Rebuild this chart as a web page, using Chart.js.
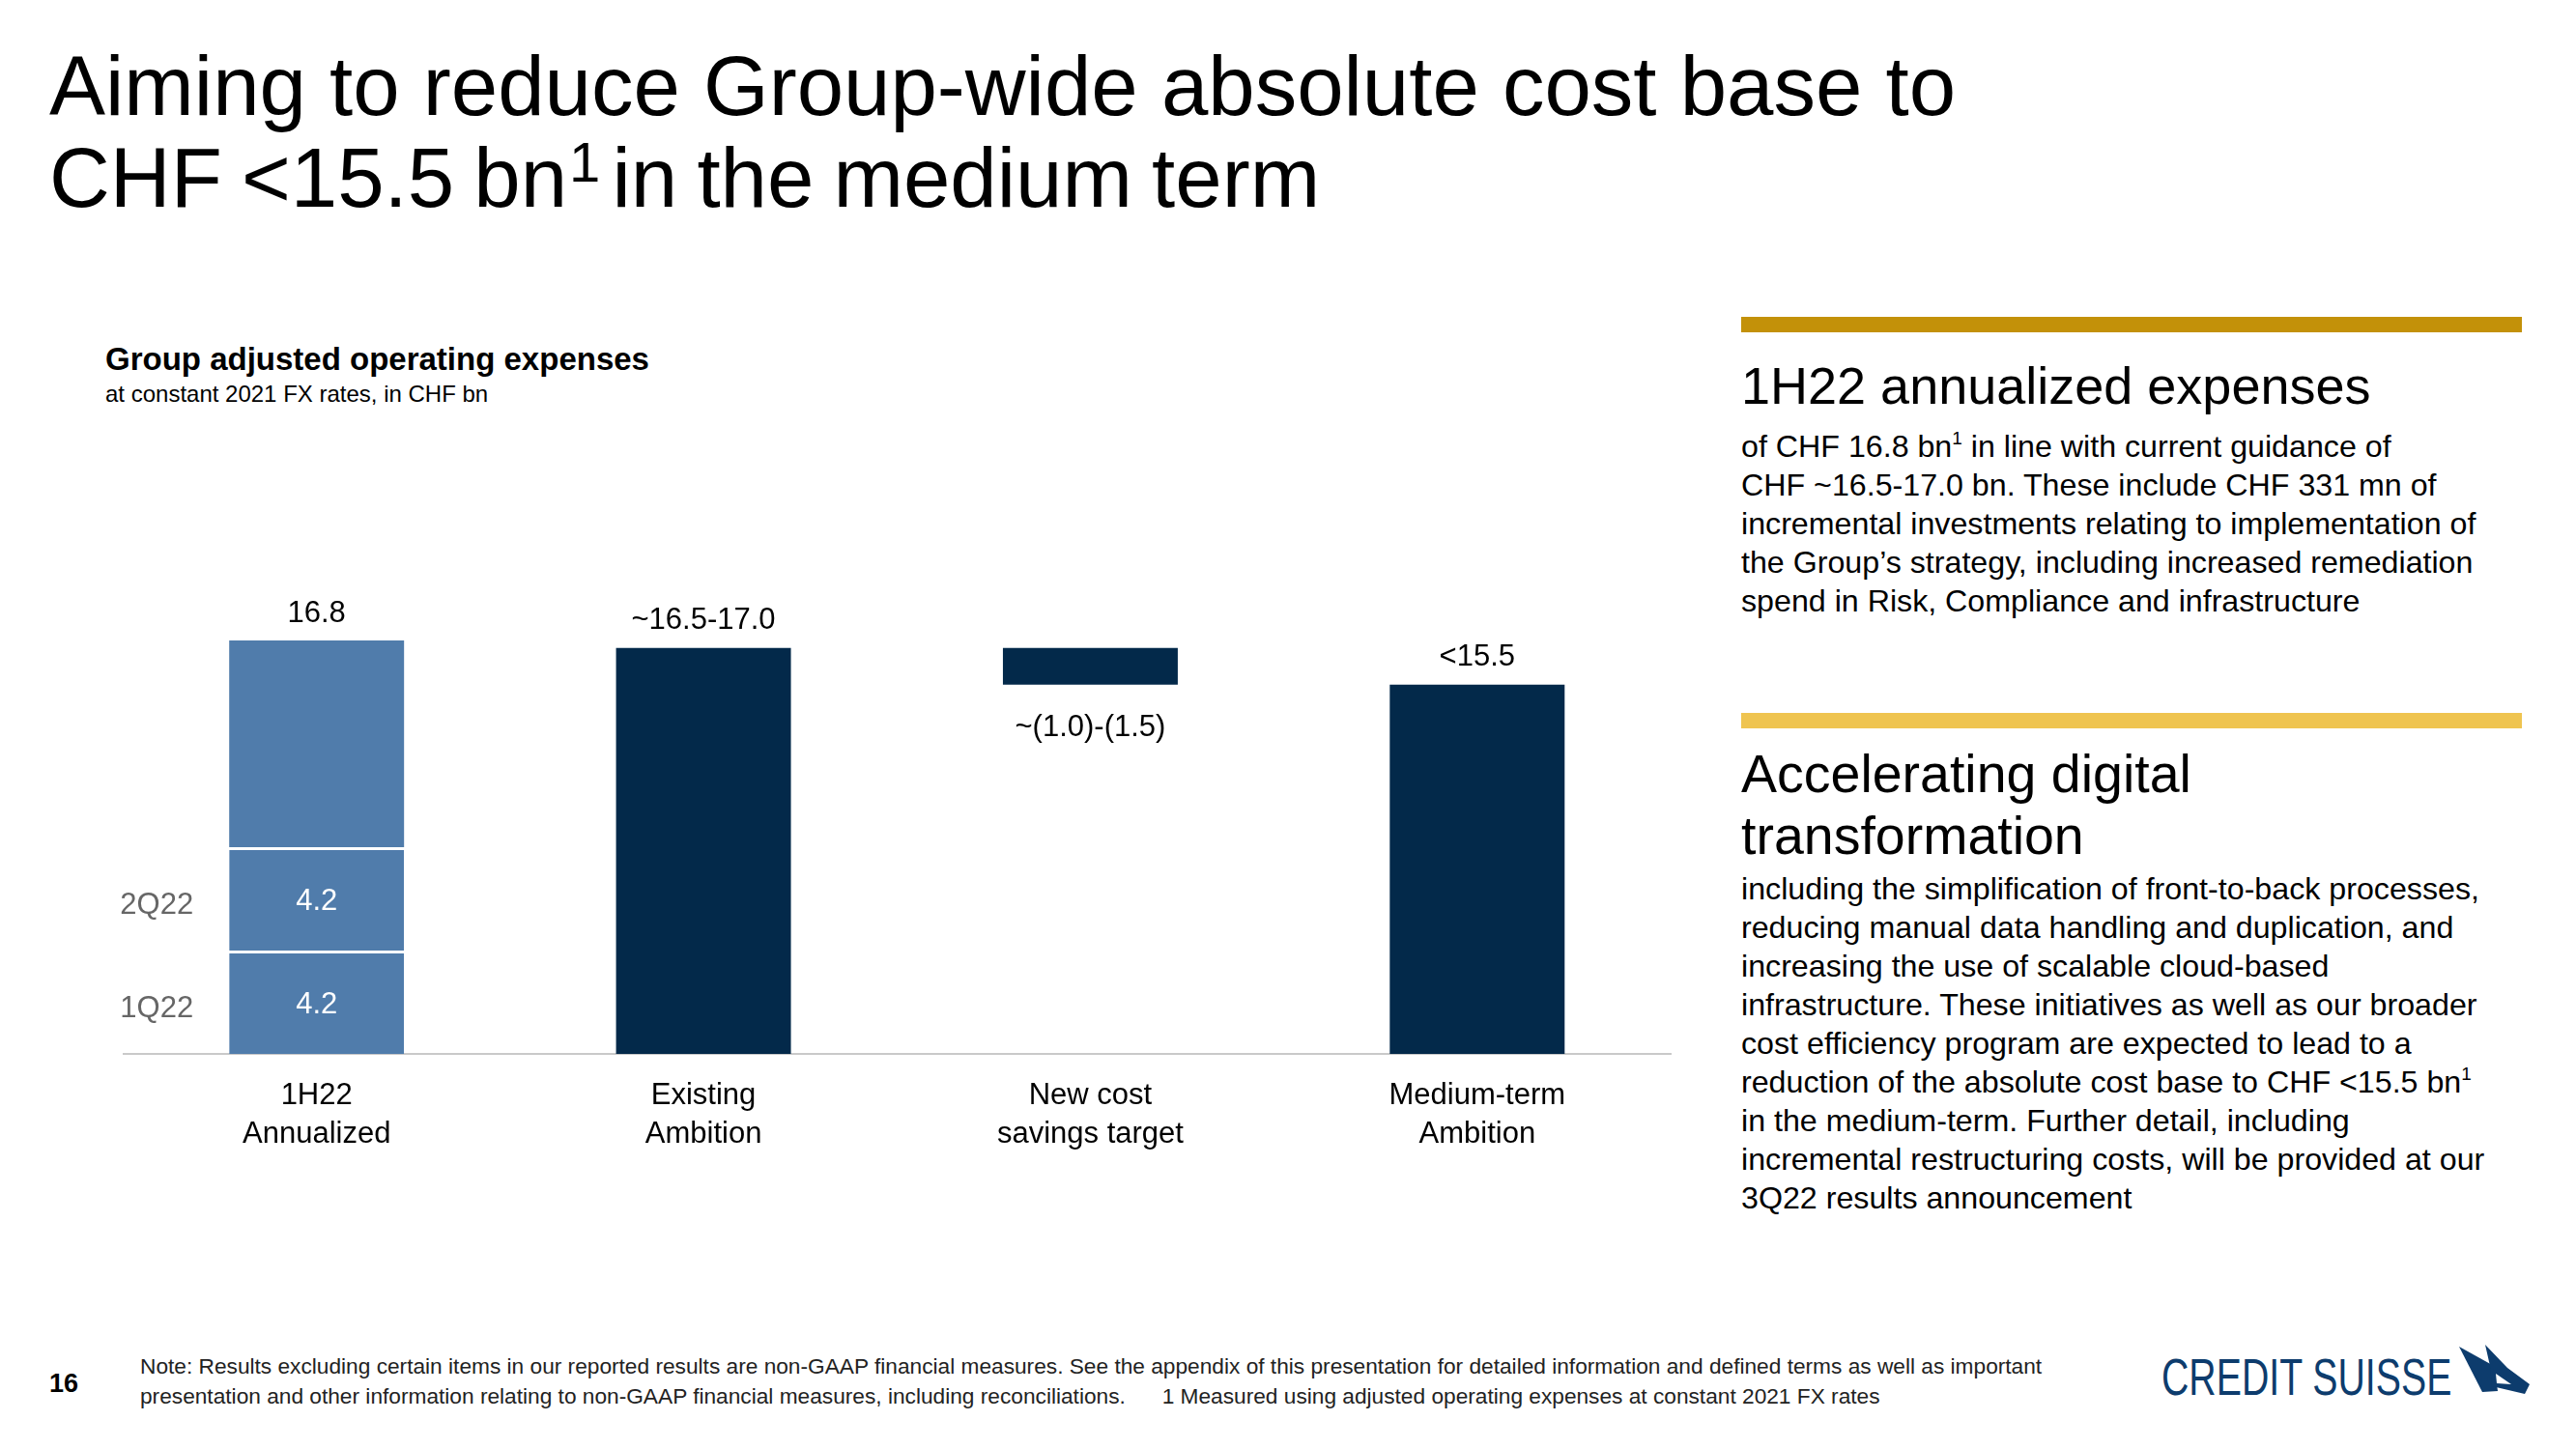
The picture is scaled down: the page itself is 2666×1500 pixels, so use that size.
<!DOCTYPE html>
<html>
<head>
<meta charset="utf-8">
<script src="https://cdn.jsdelivr.net/npm/chart.js@4.4.1/dist/chart.umd.min.js"></script>
<style>
  html, body { margin: 0; padding: 0; background: #fff; }
  body { width: 2666px; height: 1500px; position: relative; overflow: hidden; font-family: "Liberation Sans", Arial, sans-serif; color: #000; }
  .abs { position: absolute; white-space: nowrap; }
  #title { left: 51px; top: 41px; font-size: 87px; line-height: 95px; }
  #title .l2 { word-spacing: -4px; }
  #title sup { font-size: 58px; vertical-align: 26px; line-height: 0; margin-left: 2px; margin-right: -8px; }
  #chartHead { left: 109px; top: 352px; font-size: 33px; line-height: 40px; font-weight: bold; }
  #chartSub { left: 109px; top: 393px; font-size: 24px; line-height: 30px; }
  #chartBox { left: 100px; top: 540px; width: 1680px; height: 720px; }
  .bar { position: absolute; left: 1802px; width: 808px; height: 16px; }
  .head { left: 1802px; line-height: 64px; }
  .body { left: 1802px; font-size: 32.2px; line-height: 40px; }
  .body sup { font-size: 19px; vertical-align: 13px; line-height: 0; }
  #pageNo { left: 51px; top: 1415px; font-size: 27px; line-height: 34px; font-weight: bold; }
  #note { left: 145px; top: 1399px; font-size: 22.7px; line-height: 30.6px; color: #222; }
  #logo { left: 2237px; top: 1394px; font-size: 54px; line-height: 62px; color: #0d3c6d; transform: scaleX(0.727); transform-origin: 0 0; }
  #sail { left: 2545px; top: 1392px; }
</style>
</head>
<body>

<div id="title" class="abs">Aiming to reduce Group-wide absolute cost base to<br><span class="l2">CHF &lt;15.5 bn<sup>1</sup> in the medium term</span></div>

<div id="chartHead" class="abs">Group adjusted operating expenses</div>
<div id="chartSub" class="abs">at constant 2021 FX rates, in CHF bn</div>

<div id="chartBox" class="abs"><canvas id="chart" width="1680" height="720"></canvas></div>

<div class="bar" style="top:328px;background:#c39109;"></div>
<div class="abs head" style="top:367px;font-size:54px;">1H22 annualized expenses</div>
<div class="abs body" style="top:442px;">of CHF 16.8 bn<sup>1</sup> in line with current guidance of<br>CHF ~16.5-17.0 bn. These include CHF 331 mn of<br>incremental investments relating to implementation of<br>the Group’s strategy, including increased remediation<br>spend in Risk, Compliance and infrastructure</div>

<div class="bar" style="top:738px;background:#efc450;"></div>
<div class="abs head" style="top:769px;font-size:55.5px;">Accelerating digital<br>transformation</div>
<div class="abs body" style="top:900px;">including the simplification of front-to-back processes,<br>reducing manual data handling and duplication, and<br>increasing the use of scalable cloud-based<br>infrastructure. These initiatives as well as our broader<br>cost efficiency program are expected to lead to a<br>reduction of the absolute cost base to CHF &lt;15.5 bn<sup>1</sup><br>in the medium-term. Further detail, including<br>incremental restructuring costs, will be provided at our<br>3Q22 results announcement</div>

<div id="pageNo" class="abs">16</div>
<div id="note" class="abs">Note: Results excluding certain items in our reported results are non-GAAP financial measures. See the appendix of this presentation for detailed information and defined terms as well as important<br>presentation and other information relating to non-GAAP financial measures, including reconciliations.&nbsp;&nbsp;&nbsp;&nbsp;&nbsp;&nbsp;1 Measured using adjusted operating expenses at constant 2021 FX rates</div>

<div id="logo" class="abs">CREDIT SUISSE</div>
<svg id="sail" class="abs" width="76" height="54" viewBox="0 0 76 54">
  <path d="M0 2 L36 22 L40 48 L24 49 Z" fill="#0d3c6d"/>
  <path d="M27 0 L50 24 L73 41 L68 51 L34 43 L32 22 Z" fill="#0d3c6d"/>
  <path d="M38 30 L54 41 L39 40 Z" fill="#ffffff"/>
</svg>

<script>
// categories and values (CHF bn)
const categories = [['1H22', 'Annualized'], ['Existing', 'Ambition'], ['New cost', 'savings target'], ['Medium-term', 'Ambition']];
const q1Values = [4.2, null, null, null];
const q2Values = [4.2, null, null, null];
const annualizedTotal = [16.8, null, null, null];
const ambitionValues = [null, 16.5, null, 15.0];
const savingsFrom = [null, null, 16.5, null];
const savingsTo = [null, null, 15.0, null];
const topLabels = ['16.8', '~16.5-17.0', '', '<15.5'];
const belowLabels = ['', '', '~(1.0)-(1.5)', ''];
const segmentNames = ['1Q22', '2Q22'];

const lightBlue = '#507cab';
const navy = '#03294a';

// floating ranges for the stacked 1H22 column
var q1Range = q1Values.map(v => v == null ? null : [0, v]);
var q2Range = q2Values.map((v, i) => v == null ? null : [q1Values[i], q1Values[i] + v]);
var restRange = annualizedTotal.map((v, i) => v == null ? null : [q1Values[i] + q2Values[i], v]);
var darkRange = ambitionValues.map((v, i) => {
    if (v != null) return [0, v];
    if (savingsFrom[i] != null) return [savingsTo[i], savingsFrom[i]];
    return null;
});

Chart.defaults.font.family = '"Liberation Sans", Arial, sans-serif';

const barLabels = {
    id: 'barLabels',
    afterDatasetsDraw(chart) {
        const ctx = chart.ctx;
        ctx.save();
        ctx.font = '31px "Liberation Sans", Arial, sans-serif';
        ctx.textAlign = 'center';
        ctx.textBaseline = 'middle';
        categories.forEach((c, i) => {
            let top = Infinity, bottom = -Infinity, x = null;
            chart.data.datasets.forEach((ds, di) => {
                const el = chart.getDatasetMeta(di).data[i];
                if (!el || ds.data[i] == null) return;
                const p = el.getProps(['x', 'y', 'base'], true);
                top = Math.min(top, p.y, p.base);
                bottom = Math.max(bottom, p.y, p.base);
                x = p.x;
            });
            if (x == null) return;
            ctx.fillStyle = '#000';
            if (topLabels[i]) ctx.fillText(topLabels[i], x, top - 28);
            if (belowLabels[i]) ctx.fillText(belowLabels[i], x, bottom + 45);
        });
        // quarter segments: value inside, name on the left
        [0, 1].forEach(di => {
            const meta = chart.getDatasetMeta(di);
            const vals = di == 0 ? q1Values : q2Values;
            meta.data.forEach((el, i) => {
                if (vals[i] == null) return;
                const p = el.getProps(['x', 'y', 'base', 'width'], true);
                const cy = (p.y + p.base) / 2 + 3;
                ctx.fillStyle = '#fff';
                ctx.textAlign = 'center';
                ctx.fillText(vals[i].toFixed(1), p.x, cy);
                ctx.fillStyle = '#666';
                ctx.textAlign = 'right';
                ctx.fillText(segmentNames[di], p.x - p.width / 2 - 37, cy + 4);
            });
        });
        ctx.restore();
    }
};

var common = { grouped: false, barPercentage: 0.452, categoryPercentage: 1, borderSkipped: false };

new Chart(document.getElementById('chart'), {
    type: 'bar',
    data: {
        labels: categories,
        datasets: [
            Object.assign({ label: '1Q22', data: q1Range, backgroundColor: lightBlue, borderColor: '#fff', borderWidth: { top: 3, left: 0, right: 0, bottom: 0 } }, common),
            Object.assign({ label: '2Q22', data: q2Range, backgroundColor: lightBlue, borderColor: '#fff', borderWidth: { top: 3, left: 0, right: 0, bottom: 0 } }, common),
            Object.assign({ label: 'Annualized', data: restRange, backgroundColor: lightBlue, borderWidth: 0 }, common),
            Object.assign({ label: 'Ambition', data: darkRange, backgroundColor: navy, borderWidth: 0 }, common)
        ]
    },
    options: {
        responsive: false,
        animation: false,
        devicePixelRatio: 1,
        layout: { padding: { left: 27.5, right: 51, top: 16, bottom: 44 } },
        plugins: { legend: { display: false }, tooltip: { enabled: false } },
        scales: {
            x: {
                grid: { display: false },
                border: { display: true, color: '#c9c9c9', width: 2 },
                ticks: { color: '#000', padding: 15, font: { size: 31, lineHeight: 1.3 }, maxRotation: 0, autoSkip: false },
                afterFit: (s) => { s.height = 125; }
            },
            y: { display: false, min: 0, max: 21 }
        }
    },
    plugins: [barLabels]
});
</script>
</body>
</html>
